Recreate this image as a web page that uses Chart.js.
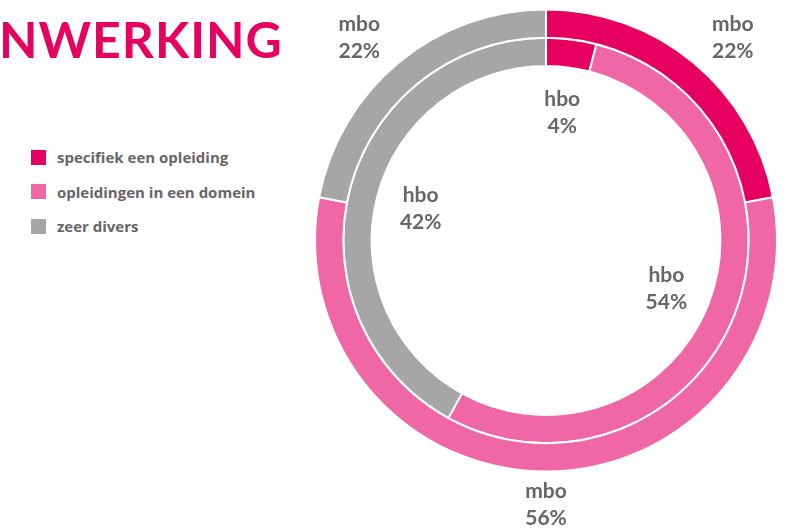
<!DOCTYPE html>
<html>
<head>
<meta charset="utf-8">
<script src="https://cdn.jsdelivr.net/npm/chart.js@4/dist/chart.umd.min.js"></script>
<style>
    body { margin:0; background:#fff; font-family:Lato, sans-serif; }
    #wrap { position:relative; width:790px; height:528px; overflow:hidden; }
    #title { position:absolute; left:-1px; top:9px; font-size:50px; line-height:60px; font-weight:700; color:#E6005F; letter-spacing:1px; }
    #legend { position:absolute; left:31px; top:140px; }
    .item { display:flex; align-items:center; height:34.5px; font-family:'Open Sans', sans-serif; font-size:15px; font-weight:700; color:#666; }
    .item .sw { width:15px; height:15px; margin-right:11px; }
    canvas { position:absolute; left:0; top:0; }
</style>
</head>
<body>
<div id="wrap">
    <div id="title">NWERKING</div>
    <div id="legend"></div>
    <canvas id="chart" width="790" height="528"></canvas>
</div>
<script>
// ── Data ───────────────────────────────────────────────────
const categories = ['specifiek een opleiding', 'opleidingen in een domein', 'zeer divers'];
const colors     = ['#E6005F', '#EF67A4', '#A6A6A6'];
const ringNames  = ['mbo', 'hbo'];
const mboValues  = [22, 56, 22];
const hboValues  = [4, 54, 42];

// ── Legend ─────────────────────────────────────────────────
document.getElementById('legend').innerHTML = categories.map((c, i) => `
    <div class="item"><span class="sw" style="background:${colors[i]}"></span>${c}</div>
`).join('');

// ── Ring labels ────────────────────────────────────────────
// outer ring labels sit on a flattened ellipse outside, inner ones inside the hole
const ringLabels = {
    id: 'ringLabels',
    afterDatasetsDraw(chart) {
        const ctx = chart.ctx;
        ctx.save();
        ctx.fillStyle = '#666';
        ctx.font = '700 21px Lato';
        ctx.textAlign = 'center';
        ctx.textBaseline = 'middle';
        chart.data.datasets.forEach((ds, di) => {
            const meta = chart.getDatasetMeta(di);
            meta.data.forEach((arc, i) => {
                const p = arc.getProps(['x', 'y', 'startAngle', 'endAngle', 'innerRadius', 'outerRadius'], true);
                const mid = (p.startAngle + p.endAngle) / 2;
                const rx = di === 0 ? p.outerRadius + 62 : p.innerRadius - 45;
                const ry = di === 0 ? p.outerRadius + 33 : p.innerRadius - 45;
                const x = p.x + Math.cos(mid) * rx;
                const y = p.y + Math.sin(mid) * ry;
                ctx.fillText(ringNames[di], x, y - 13);
                ctx.fillText(ds.data[i] + '%', x, y + 14);
            });
        });
        ctx.restore();
    }
};

new Chart(document.getElementById('chart'), {
    type: 'doughnut',
    data: {
        labels: categories,
        datasets: [
            { label: ringNames[0], data: mboValues, backgroundColor: colors, borderColor: '#fff', borderWidth: 2 },
            { label: ringNames[1], data: hboValues, backgroundColor: colors, borderColor: '#fff', borderWidth: 2 }
        ]
    },
    options: {
        responsive: false,
        animation: false,
        cutout: '75.5%',
        layout: { padding: { left: 314, right: 12, top: 8, bottom: 55 } },
        plugins: { legend: { display: false }, tooltip: { enabled: false } }
    },
    plugins: [ringLabels]
});
</script>
</body>
</html>
